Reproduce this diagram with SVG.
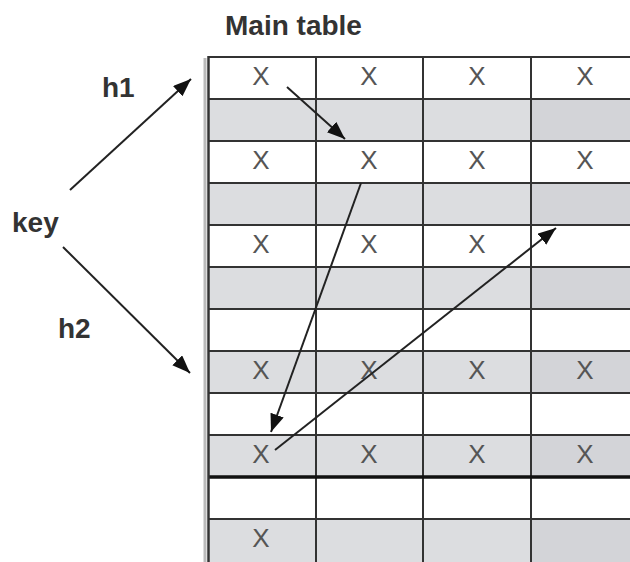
<svg xmlns="http://www.w3.org/2000/svg" width="630" height="562" viewBox="0 0 630 562">
<style>
.lbl{font-family:"Liberation Sans",Arial,sans-serif;font-weight:bold;font-size:28px;fill:#333}
.x{font-family:"Liberation Sans",Arial,sans-serif;font-size:26px;fill:#555;text-anchor:middle}
.g{fill:#dcdde0}
.g3{fill:#d3d4d8}
.grid{stroke:#333;stroke-width:2;fill:none}
.arr{stroke:#222;stroke-width:2;fill:none;marker-end:url(#ah)}
</style>
<defs>
<marker id="ah" markerUnits="userSpaceOnUse" markerWidth="20" markerHeight="16" refX="18" refY="7" orient="auto">
<path d="M0,0 L18,7 L0,14 Z" fill="#111"/>
</marker>
</defs>
<rect width="630" height="562" fill="#fff"/>
<text class="lbl" x="225" y="35">Main table</text>
<g id="table">
<rect class="g" x="208" y="99" width="323" height="42"/>
<rect class="g3" x="531" y="99" width="99" height="42"/>
<rect class="g" x="208" y="183" width="323" height="42"/>
<rect class="g3" x="531" y="183" width="99" height="42"/>
<rect class="g" x="208" y="267" width="323" height="42"/>
<rect class="g3" x="531" y="267" width="99" height="42"/>
<rect class="g" x="208" y="351" width="323" height="42"/>
<rect class="g3" x="531" y="351" width="99" height="42"/>
<rect class="g" x="208" y="435" width="323" height="42"/>
<rect class="g3" x="531" y="435" width="99" height="42"/>
<rect class="g" x="208" y="519" width="323" height="43"/>
<rect class="g3" x="531" y="519" width="99" height="43"/>
<path class="grid" d="M208,57H630M208,99H630M208,141H630M208,183H630M208,225H630M208,267H630M208,309H630M208,351H630M208,393H630M208,435H630M208,519H630M316,57V562M423,57V562M531,57V562"/>
<path d="M208,477H630" stroke="#111" stroke-width="3.5"/>
<path d="M205,58V562" stroke="#bbb" stroke-width="3"/>
<path d="M208.5,56V562" stroke="#333" stroke-width="2.5"/>
<g id="cells">
<text class="x" x="261" y="85">X</text><text class="x" x="369" y="85">X</text><text class="x" x="477" y="85">X</text><text class="x" x="585" y="85">X</text>
<text class="x" x="261" y="169">X</text><text class="x" x="369" y="169">X</text><text class="x" x="477" y="169">X</text><text class="x" x="585" y="169">X</text>
<text class="x" x="261" y="253">X</text><text class="x" x="369" y="253">X</text><text class="x" x="477" y="253">X</text>
<text class="x" x="261" y="379">X</text><text class="x" x="369" y="379">X</text><text class="x" x="477" y="379">X</text><text class="x" x="585" y="379">X</text>
<text class="x" x="261" y="463">X</text><text class="x" x="369" y="463">X</text><text class="x" x="477" y="463">X</text><text class="x" x="585" y="463">X</text>
<text class="x" x="261" y="547">X</text>
</g>
</g>
<g id="key"><text class="lbl" x="12" y="232">key</text></g>
<g id="h1"><text class="lbl" x="102" y="97">h1</text></g>
<g id="h2"><text class="lbl" x="58" y="338">h2</text></g>
<g id="connectors">
<line class="arr" x1="70" y1="190" x2="191" y2="79"/>
<line class="arr" x1="63" y1="247" x2="190" y2="373"/>
<line class="arr" x1="287" y1="87" x2="345" y2="139"/>
<line class="arr" x1="361" y1="183" x2="271" y2="432"/>
<line class="arr" x1="275" y1="450" x2="556" y2="228"/>
</g>
</svg>
